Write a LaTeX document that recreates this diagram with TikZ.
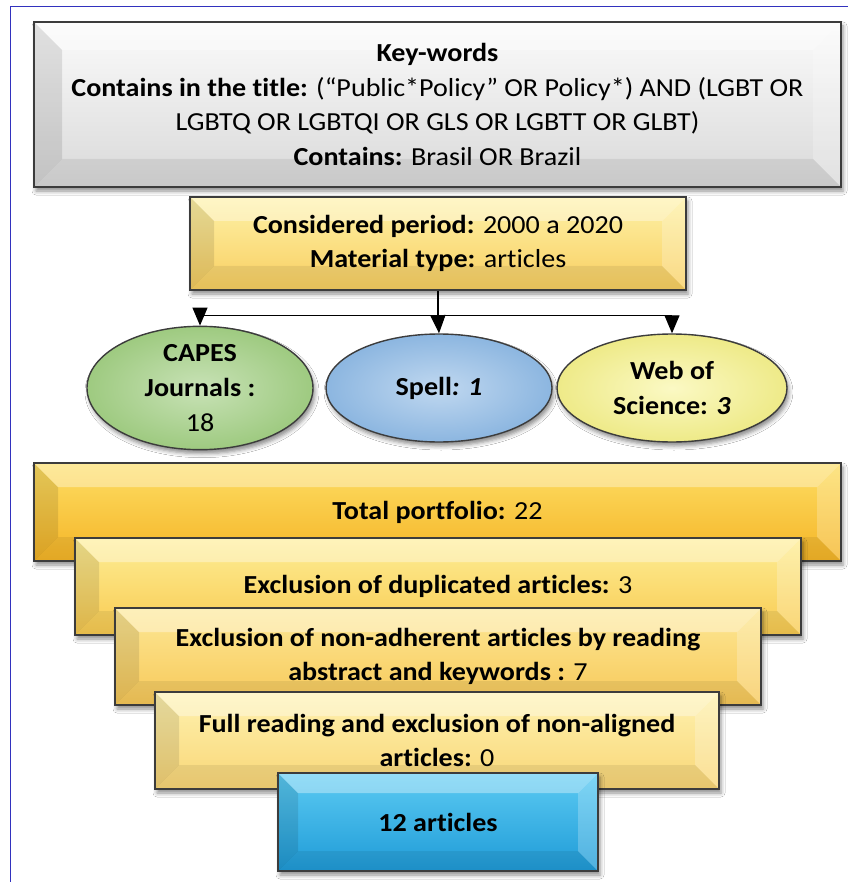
\documentclass[tikz,border=0pt]{standalone}
\usepackage{fontspec}
\setmainfont{Carlito}[FakeStretch=1.08,Ligatures=NoCommon]
\usetikzlibrary{shapes.geometric,shadows.blur,arrows.meta,calc}
\definecolor{frameblue}{RGB}{50,50,190}
\definecolor{edgegray}{RGB}{60,60,60}
\tikzset{
  bevel/.style={path picture={
    \coordinate (@nw) at (path picture bounding box.north west);
    \coordinate (@ne) at (path picture bounding box.north east);
    \coordinate (@sw) at (path picture bounding box.south west);
    \coordinate (@se) at (path picture bounding box.south east);
    \fill[black,opacity=0.10] (@nw) -- ($(@nw)+(#1pt,-#1pt)$) -- ($(@sw)+(#1pt,#1pt)$) -- (@sw) -- cycle;
    \fill[white,opacity=0.35] (@nw) -- (@ne) -- ($(@ne)+(-#1pt,-#1pt)$) -- ($(@nw)+(#1pt,-#1pt)$) -- cycle;
    \fill[white,opacity=0.22] (@ne) -- (@se) -- ($(@se)+(-#1pt,#1pt)$) -- ($(@ne)+(-#1pt,-#1pt)$) -- cycle;
    \fill[black,opacity=0.07] (@sw) -- (@se) -- ($(@se)+(-#1pt,#1pt)$) -- ($(@sw)+(#1pt,#1pt)$) -- cycle;
  }},
  bevel/.default=22,
  shad/.style={blur shadow={shadow xshift=2pt,shadow yshift=-4pt,shadow opacity=45,shadow blur radius=4pt}},
  boxx/.style={rectangle,draw=edgegray,line width=1.6pt,inner sep=0pt,align=center,
    font=\fontsize{26}{34.5}\selectfont,shad},
  ell/.style={ellipse,draw=edgegray,line width=1.4pt,inner sep=0pt,align=center,
    minimum height=108pt,font=\fontsize{26}{35}\selectfont\bfseries,shad},
  conn/.style={line width=1.1pt,black},
  arr/.style={conn,-{Triangle[length=18pt,width=15pt]}},
}
\begin{document}
\begin{tikzpicture}[x=1pt,y=1pt]
\useasboundingbox (0,0) rectangle (848,-882);
\fill[white] (0,0) rectangle (848,-882);
\draw[frameblue,line width=1pt] (10,-882) -- (10,-7) -- (848,-7);

\node[boxx,bevel=28,top color=white!97!gray,bottom color=black!15,minimum width=807pt,minimum height=165pt]
  (kw) at (437.5,-104.5)
  {\textbf{Key-words}\\
   \textbf{Contains in the title:} (“Public*Policy” OR Policy*) AND (LGBT OR\\
   LGBTQ OR LGBTQI OR GLS OR LGBTT OR GLBT)\\
   \textbf{Contains:} Brasil OR Brazil};

\node[boxx,bevel=24,top color={rgb,255:red,254;green,242;blue,168},bottom color={rgb,255:red,248;green,206;blue,96},
  minimum width=496pt,minimum height=93pt] (per) at (438,-243.5)
  {\textbf{Considered period:} 2000 a 2020\\ \textbf{Material type:} articles};

\node[ell,inner color={rgb,255:red,200;green,226;blue,182},outer color={rgb,255:red,158;green,202;blue,128},minimum width=226pt]
  (capes) at (200,-388) {CAPES\\Journals :\\\mdseries 18};
\node[ell,inner color={rgb,255:red,192;green,216;blue,240},outer color={rgb,255:red,140;green,182;blue,224},minimum width=226pt]
  (spell) at (439,-388) {Spell\textit{: 1}};
\node[ell,inner color={rgb,255:red,251;green,249;blue,196},outer color={rgb,255:red,238;green,234;blue,136},minimum width=230pt]
  (wos) at (672,-388) {Web of\\Science: \textit{3}};

\draw[conn] (per.south) -- ++(0,-25) coordinate (j);
\draw[conn] (j -| capes.north) -- (j -| wos.north);
\draw[arr] (j -| capes.north) -- (capes.north);
\draw[arr] (j) -- (spell.north);
\draw[arr] (j -| wos.north) -- (wos.north);

\node[boxx,bevel=24,top color={rgb,255:red,253;green,222;blue,100},bottom color={rgb,255:red,245;green,180;blue,38},
  minimum width=807pt,minimum height=98pt] (total) at (437.5,-512)
  {\textbf{Total portfolio:} 22};
\node[boxx,bevel=24,top color={rgb,255:red,254;green,238;blue,150},bottom color={rgb,255:red,248;green,202;blue,80},
  minimum width=726pt,minimum height=97pt] (dup) at (438,-586.5)
  {\textbf{Exclusion of duplicated articles:} 3};
\node[boxx,bevel=24,top color={rgb,255:red,253;green,232;blue,150},bottom color={rgb,255:red,247;green,200;blue,88},
  minimum width=646pt,minimum height=97pt] (nonad) at (438,-656.5)
  {\textbf{Exclusion of non-adherent articles by reading}\\ \textbf{abstract and keywords :} 7};
\node[boxx,bevel=24,top color={rgb,255:red,254;green,242;blue,176},bottom color={rgb,255:red,249;green,214;blue,118},
  minimum width=564pt,minimum height=97pt] (full) at (437,-740.5)
  {\textbf{Full reading and exclusion of non-aligned}\\ \textbf{articles:} 0};
\node[boxx,bevel=20,top color={rgb,255:red,92;green,203;blue,243},bottom color={rgb,255:red,31;green,155;blue,215},
  minimum width=320pt,minimum height=98pt] (twelve) at (438,-822)
  {\textbf{12 articles}};
\end{tikzpicture}
\end{document}
